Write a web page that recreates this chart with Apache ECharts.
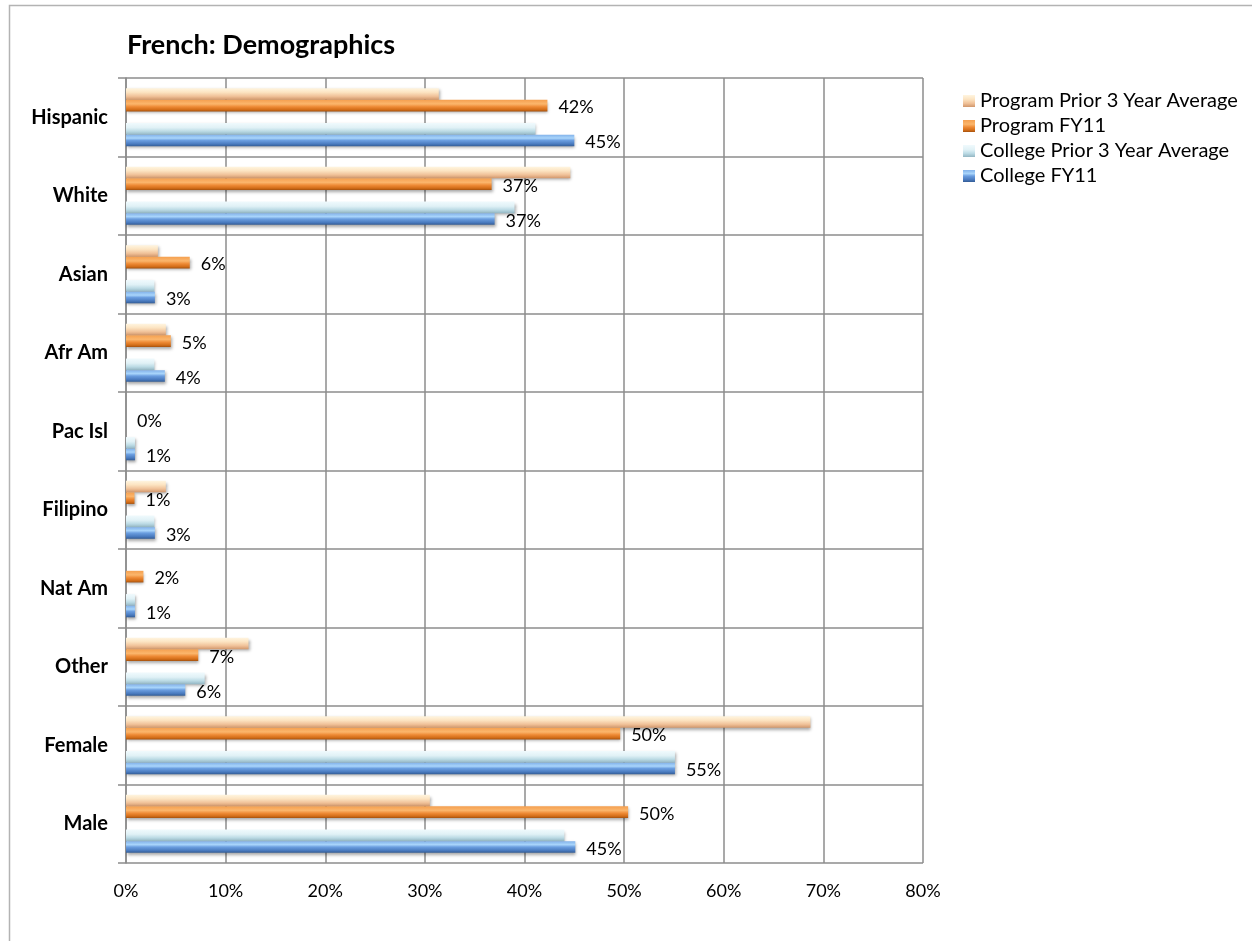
<!DOCTYPE html>
<html>
<head>
<meta charset="utf-8">
<script src="https://cdn.jsdelivr.net/npm/echarts@6/dist/echarts.min.js"></script>
<style>html,body{margin:0;padding:0;background:#fff;}#chart{width:1252px;height:941px;}</style>
</head>
<body>
<div id="chart"></div>
<script>
// Categories top-to-bottom as shown
const categories = ['Hispanic', 'White', 'Asian', 'Afr Am', 'Pac Isl', 'Filipino', 'Nat Am', 'Other', 'Female', 'Male'];
const programPrior = [31.4, 44.6, 3.2, 4.0, 0, 4.0, 0, 12.3, 68.7, 30.5];
const programFY11 = [42.3, 36.7, 6.4, 4.5, 0, 0.85, 1.75, 7.25, 49.6, 50.4];
const collegePrior = [41.1, 39.0, 2.85, 2.85, 0.9, 2.85, 0.9, 7.9, 55.1, 44.0];
const collegeFY11 = [45.0, 37.0, 2.9, 3.9, 0.9, 2.9, 0.9, 5.95, 55.1, 45.1];
const xTicks = [0, 10, 20, 30, 40, 50, 60, 70, 80];
const seriesNames = ['Program Prior 3 Year Average', 'Program FY11', 'College Prior 3 Year Average', 'College FY11'];

const FONT = 'Lato, "Open Sans", sans-serif';
const rev = a => a.slice().reverse();
const grad = stops => ({type: 'linear', x: 0, y: 0, x2: 0, y2: 1,
  colorStops: stops.map(s => ({offset: s[0], color: s[1]}))});

const colors = {
  pp: grad([[0, '#fff5e0'], [0.35, '#fce4c2'], [0.7, '#f0c198'], [1, '#d0966b']]),
  pf: grad([[0, '#f5a050'], [0.35, '#fbb66c'], [0.6, '#ee8a35'], [0.85, '#d26d18'], [1, '#a5520f']]),
  cp: grad([[0, '#f0fafd'], [0.4, '#e0f1f6'], [0.7, '#bcdbe5'], [1, '#93b6c3']]),
  cf: grad([[0, '#82b2ea'], [0.3, '#a9d5fb'], [0.5, '#6b9ee0'], [0.8, '#4a7bbf'], [1, '#335c95']])
};

const shadow = {shadowColor: 'rgba(0,0,0,0.35)', shadowBlur: 3, shadowOffsetY: 2, shadowOffsetX: 1};
const lbl = {show: true, position: 'right', distance: 11, fontFamily: FONT, fontSize: 18, color: '#000',
  offset: [0, 2], formatter: p => Math.round(p.value) + '%'};

function bar(name, data, color, label) {
  return {name: name, type: 'bar', data: rev(data), barGap: '0%', barCategoryGap: '26%',
    itemStyle: Object.assign({color: color}, shadow),
    label: label ? lbl : {show: false}, emphasis: {disabled: true}, z: 3};
}

const option = {
  backgroundColor: '#fff',
  animation: false,
  title: {text: 'French: Demographics', left: 122, top: 27,
    textStyle: {fontFamily: FONT, fontSize: 27, fontWeight: 'bold', color: '#000'}},
  legend: {orient: 'vertical', left: 958, top: 86, itemWidth: 12, itemHeight: 12, itemGap: 5, icon: 'rect',
    data: seriesNames, textStyle: {fontFamily: FONT, fontSize: 20, color: '#000'}, selectedMode: false},
  grid: {left: 126, right: 329, top: 78, bottom: 78, containLabel: false},
  xAxis: {type: 'value', min: 0, max: 80, interval: 10,
    axisLine: {show: false}, axisTick: {show: false},
    splitLine: {show: true, lineStyle: {color: '#8c8c8c', width: 1.5}},
    axisLabel: {fontFamily: FONT, fontSize: 18, color: '#000', margin: 19, formatter: v => v + '%'}},
  yAxis: {type: 'category', data: rev(categories),
    axisLine: {show: true, lineStyle: {color: '#8c8c8c', width: 1.5}},
    axisTick: {show: true, length: 8, inside: false, lineStyle: {color: '#8c8c8c', width: 1.5}},
    splitLine: {show: true, lineStyle: {color: '#8c8c8c', width: 1.5}},
    axisLabel: {fontFamily: FONT, fontSize: 20, fontWeight: 'bold', color: '#000', margin: 18}},
  graphic: [{type: 'rect', left: 7, top: 3, shape: {x: 0, y: 0, width: 1300, height: 1000},
    style: {fill: 'none', stroke: '#b3b3b3', lineWidth: 1.5}, silent: true, z: -1}],
  series: [
    bar(seriesNames[0], programPrior, colors.pp, false),
    bar(seriesNames[1], programFY11, colors.pf, true),
    {name: 'gap', type: 'bar', data: categories.map(() => null), barGap: '0%', barCategoryGap: '26%', silent: true},
    bar(seriesNames[2], collegePrior, colors.cp, false),
    bar(seriesNames[3], collegeFY11, colors.cf, true)
  ]
};

const chart = echarts.init(document.getElementById('chart'), null, {renderer: 'canvas'});
chart.setOption(option);
</script>
</body>
</html>
